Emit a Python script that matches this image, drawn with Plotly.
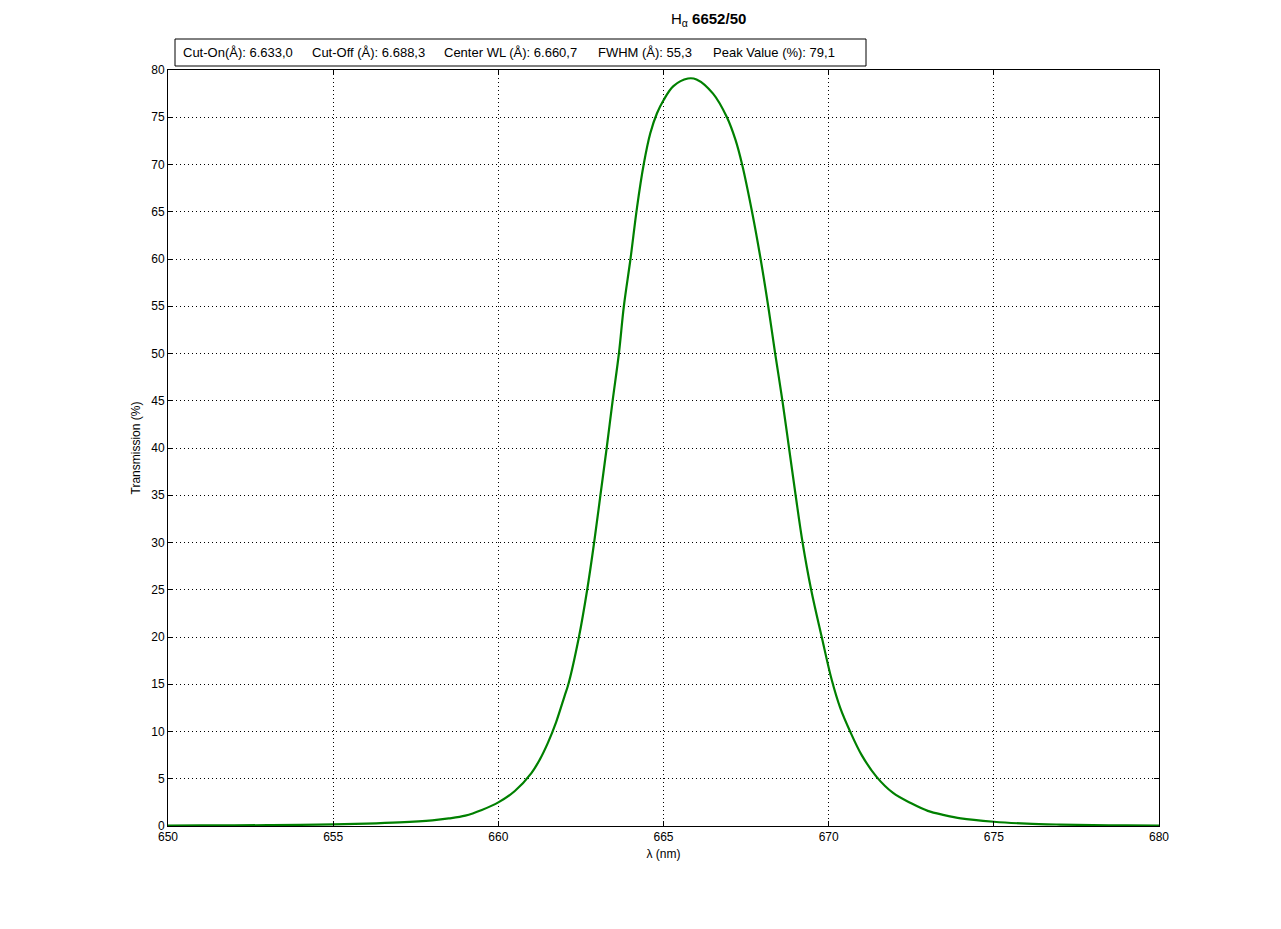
import plotly.graph_objects as go

wavelength_nm = [650.0, 651.0, 652.0, 653.0, 654.0, 655.0, 656.0, 657.0, 658.0, 658.5,
                 659.0, 659.5, 660.0, 660.5, 661.0, 661.25, 661.5, 661.75, 662.0, 662.12,
                 662.44, 662.69, 662.90, 663.09, 663.28, 663.46, 663.65, 663.8, 664.0, 664.2,
                 664.4, 664.6, 664.8, 665.0, 665.3, 665.74, 666.0, 666.5, 666.92, 667.18,
                 667.38, 667.68, 667.94, 668.17, 668.38, 668.60, 668.80, 669.00, 669.21, 669.47,
                 669.79, 670.09, 670.35, 670.65, 671.0, 671.45, 671.95, 672.5, 673.0, 673.5,
                 674.0, 675.0, 676.0, 677.0, 678.0, 679.0, 680.0]
transmission_pct = [0.05, 0.06, 0.07, 0.09, 0.12, 0.17, 0.25, 0.38, 0.6, 0.8,
                    1.1, 1.7, 2.5, 3.7, 5.6, 7.0, 8.8, 11.0, 13.7, 15.0,
                    20.0, 25.0, 30.0, 35.0, 40.0, 45.0, 50.0, 55.0, 60.0, 65.5,
                    70.0, 73.3, 75.4, 76.8, 78.3, 79.1, 79.0, 77.5, 75.0, 72.6,
                    70.0, 65.0, 60.0, 55.0, 50.0, 45.0, 40.0, 35.0, 30.0, 25.0,
                    20.0, 15.5, 12.5, 10.0, 7.5, 5.2, 3.5, 2.4, 1.6, 1.15,
                    0.8, 0.45, 0.25, 0.15, 0.09, 0.06, 0.05]

x_ticks = [650, 655, 660, 665, 670, 675, 680]
y_ticks = list(range(0, 81, 5))

title_text = "H<sub>α</sub> <b>6652/50</b>"
info_items = ["Cut-On(Å): 6.633,0", "Cut-Off (Å): 6.688,3", "Center WL (Å): 6.660,7",
              "FWHM (Å): 55,3", "Peak Value (%): 79,1"]
info_x_px = [181, 310, 442, 596, 711]

OFF = 8  # page body margin
W, H = 1281 - 2 * OFF, 929 - 2 * OFF
L, T = 168 - OFF, 70 - OFF
pw, ph = 1159 - 168, 826 - 70
R, B = W - L - pw, H - T - ph


def px(x):
    return (x - OFF - L) / pw


def py(y):
    return (T + ph - (y - OFF)) / ph


FONT = "Liberation Sans, Arial"

fig = go.Figure()
fig.add_trace(go.Scatter(x=wavelength_nm, y=transmission_pct, mode="lines",
                         line=dict(color="#008000", width=2.2, shape="spline", smoothing=1.0),
                         showlegend=False, hoverinfo="x+y"))

axis_common = dict(showline=True, linecolor="black", linewidth=1, mirror="ticks",
                   ticks="inside", ticklen=5, tickcolor="black",
                   showgrid=True, gridcolor="black", griddash="1px,3px", gridwidth=1,
                   zeroline=False, tickfont=dict(family=FONT, size=12, color="black"))

fig.update_xaxes(range=[650, 680], tickvals=x_ticks,
                 title=dict(text="λ (nm)", font=dict(family=FONT, size=12, color="black"), standoff=6),
                 **axis_common)
fig.update_yaxes(range=[0, 80], tickvals=y_ticks,
                 title=dict(text="Transmission (%)", font=dict(family=FONT, size=12, color="black"), standoff=8),
                 **axis_common)

fig.add_shape(type="rect", xref="paper", yref="paper",
              x0=px(175), x1=px(866), y0=py(66), y1=py(39),
              line=dict(color="black", width=1), fillcolor="white", layer="above")
for txt, xp in zip(info_items, info_x_px):
    fig.add_annotation(xref="paper", yref="paper", x=px(xp), y=py(52.5),
                       xanchor="left", yanchor="middle", text=txt, showarrow=False,
                       font=dict(family=FONT, size=13, color="black"))
fig.add_annotation(xref="paper", yref="paper", x=px(708), y=py(19),
                   xanchor="center", yanchor="middle", text=title_text, showarrow=False,
                   font=dict(family=FONT, size=15, color="black"))

fig.update_layout(width=W, height=H, margin=dict(l=L, r=R, t=T, b=B),
                  plot_bgcolor="white", paper_bgcolor="white")

fig.write_html("out.html")
